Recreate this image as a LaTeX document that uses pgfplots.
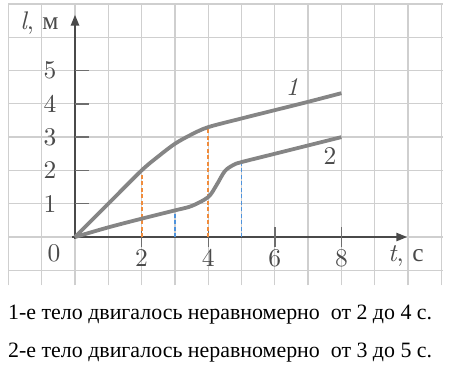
\documentclass[border=0pt]{standalone}
\usepackage{fontspec}
\usepackage{graphicx}
\usepackage{pgfplots}
\pgfplotsset{compat=1.18}
\usetikzlibrary{arrows.meta}
\newfontfamily\cyr{Liberation Serif}
\definecolor{axgray}{HTML}{4A4A4A}
\definecolor{curvegray}{HTML}{858585}
\definecolor{gridgray}{HTML}{CFCFCF}
\definecolor{dorange}{HTML}{F08C3C}
\definecolor{dblue}{HTML}{4F93DC}
\newcommand{\bigtxt}[1]{\scalebox{2.55}{\fontsize{10}{12}\selectfont\addfontfeatures{FakeBold=1.3}#1}}
\begin{document}
\begin{tikzpicture}[x=1pt,y=1pt]
\useasboundingbox (0,0) rectangle (450,-367);
\begin{axis}[at={(8.4pt,-285.3pt)}, anchor=south west,
  x=33.3pt, y=33.3pt,
  xmin=-2, xmax=11.05, ymin=-1.45, ymax=7,
  axis line style={draw=none},
  xtick={-2,...,11}, ytick={-1,...,7},
  xticklabels={}, yticklabels={},
  major tick length=0pt,
  grid=major, major grid style={gridgray, line width=1.3pt},
  clip=false]
% axes
\draw[axgray, line width=2.4pt, -{Triangle[length=11pt,width=8pt]}] (axis cs:-0.08,0) -- (axis cs:9.98,0);
\draw[axgray, line width=2.4pt, -{Triangle[length=11pt,width=8pt]}] (axis cs:0,-0.05) -- (axis cs:0,6.68);
% ticks
\pgfplotsinvokeforeach{1,...,5}{\draw[axgray!80, line width=1.4pt] (axis cs:0,#1) -- (axis cs:0.42,#1);}
\pgfplotsinvokeforeach{2,4,6,8}{\draw[axgray!80, line width=1.4pt] (axis cs:#1,-0.3) -- (axis cs:#1,0.3);}
% dashed helper lines
\addplot[dorange, dash pattern=on 4pt off 2.5pt, line width=1.8pt] coordinates {(2,0) (2,2.0)};
\addplot[dorange, dash pattern=on 4pt off 2.5pt, line width=1.8pt] coordinates {(4,0) (4,3.3)};
\addplot[dblue, dash pattern=on 4pt off 2.5pt, line width=1.8pt] coordinates {(3,0) (3,0.8)};
\addplot[dblue, dash pattern=on 4pt off 2.5pt, line width=1.8pt] coordinates {(5,0) (5,2.25)};
% curves
\addplot[curvegray, line width=3.8pt, smooth, tension=0.5] coordinates {
 (0,0) (1,1) (2,2) (2.5,2.42) (3,2.8) (3.5,3.08) (4,3.3) (5,3.56) (6,3.81) (7,4.06) (8,4.32)};
\addplot[curvegray, line width=3.8pt, smooth, tension=0.5] coordinates {
 (0,0) (1,0.29) (2,0.55) (3,0.8) (3.5,0.93) (4,1.2) (4.25,1.56) (4.5,1.98) (4.75,2.16) (5,2.25) (6,2.5) (7,2.75) (8,3.0)};
% tick labels
\pgfplotsinvokeforeach{1,...,5}{\node[axgray, inner sep=0pt] at (axis cs:-0.75,#1) {\bigtxt{#1}};}
\pgfplotsinvokeforeach{2,4,6,8}{\node[axgray, inner sep=0pt] at (axis cs:#1,-0.63) {\bigtxt{#1}};}
\node[axgray, inner sep=0pt] at (axis cs:-0.63,-0.48) {\bigtxt{0}};
% axis labels
\node[axgray, anchor=base west, inner sep=0pt] at (axis cs:-1.65,6.22) {\bigtxt{\textit{l}, {\cyr м}}};
\node[axgray, anchor=base west, inner sep=0pt] at (axis cs:9.4,-0.75) {\bigtxt{\textit{t}, {\cyr с}}};
% curve labels
\node[axgray, inner sep=0pt] at (axis cs:6.52,4.5) {\bigtxt{\textit{1}}};
\node[axgray, inner sep=0pt] at (axis cs:7.66,2.43) {\bigtxt{2}};
\end{axis}
\node[anchor=base west, inner sep=0pt, font=\cyr\fontsize{21.9}{26}\selectfont] at (8,-319) {1-е тело двигалось неравномерно\ \ от 2 до 4 с.};
\node[anchor=base west, inner sep=0pt, font=\cyr\fontsize{21.9}{26}\selectfont] at (8,-357) {2-е тело двигалось неравномерно\ \ от 3 до 5 с.};
\end{tikzpicture}
\end{document}
